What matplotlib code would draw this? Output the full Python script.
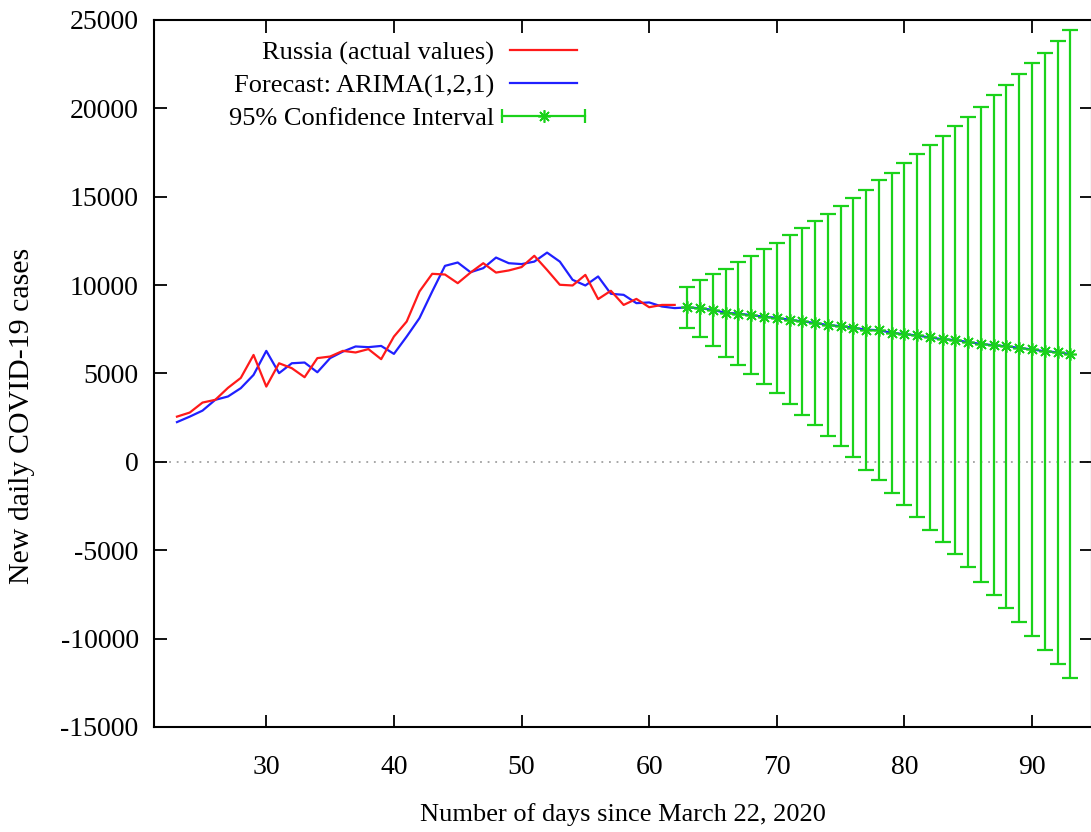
import matplotlib
matplotlib.use("Agg")
import matplotlib.pyplot as plt
from matplotlib.lines import Line2D
from matplotlib.legend_handler import HandlerLine2D

plt.rcParams['font.family'] = ['Liberation Serif', 'DejaVu Serif']
plt.rcParams['axes.unicode_minus'] = False

# actual data (Russia), days since March 22, 2020
days_actual = list(range(23, 63))
actual = [2560, 2790, 3355, 3510, 4190, 4750, 6050, 4260, 5580, 5300,
          4790, 5870, 5960, 6280, 6190, 6380, 5810, 7090, 7940, 9640,
          10640, 10600, 10110, 10710, 11240, 10710, 10830, 11020, 11660, 10860,
          10020, 9980, 10580, 9210, 9680, 8880, 9220, 8750, 8880, 8880]

# ARIMA(1,2,1) fitted values over the same days
fitted = [2250, 2560, 2900, 3510, 3700, 4170, 4920, 6280, 5020, 5580,
          5620, 5070, 5870, 6240, 6530, 6490, 6560, 6110, 7090, 8130,
          9640, 11090, 11280, 10730, 10960, 11560, 11240, 11190, 11330, 11840,
          11330, 10300, 9980, 10490, 9510, 9450, 8980, 9020, 8790, 8700]

# forecast with 95% confidence interval
days_fc = list(range(63, 94))
fc_mid = [8740, 8690, 8600, 8430, 8390, 8300, 8210, 8150, 8040, 7950,
          7860, 7740, 7680, 7590, 7480, 7450, 7300, 7230, 7150, 7040,
          6940, 6890, 6780, 6670, 6600, 6540, 6450, 6360, 6260, 6200, 6100]
fc_low = [7600, 7090, 6580, 5960, 5490, 4980, 4400, 3890, 3280, 2680,
          2080, 1470, 870, 270, -440, -1020, -1740, -2450, -3130, -3850,
          -4540, -5220, -5960, -6770, -7530, -8240, -9040, -9850, -10640, -11450, -12240]
fc_up = [9880, 10300, 10620, 10900, 11300, 11620, 12030, 12410, 12810, 13220,
         13640, 14010, 14500, 14920, 15390, 15920, 16340, 16920, 17430, 17920,
         18430, 19010, 19520, 20100, 20730, 21330, 21940, 22560, 23160, 23840, 24440]

red = '#ff1a1a'
blue = '#2020ff'
green = '#1ad21a'
star = (8, 2, 0)

fig = plt.figure(figsize=(10.91, 8.32), dpi=100)
ax = fig.add_axes([154/1091, 1 - 727/832, 938/1091, 707/832])

ax.axhline(0, color='#a0a0a0', lw=1.3, ls=(0, (1, 3.2)), zorder=1)

ax.plot(days_actual, actual, color=red, lw=1.6, zorder=3)
ax.plot(days_actual + days_fc, fitted + fc_mid, color=blue, lw=1.6, zorder=2)

err_lo = [m - l for m, l in zip(fc_mid, fc_low)]
err_hi = [u - m for m, u in zip(fc_mid, fc_up)]
ax.errorbar(days_fc, fc_mid, yerr=[err_lo, err_hi], fmt='none', ecolor=green,
            elinewidth=1.6, capsize=6, capthick=1.6, zorder=4)
ax.plot(days_fc, fc_mid, ls='none', marker=star, ms=9, mew=1.2, color=green, zorder=5)

ax.set_xlim(21.2, 94.7)
ax.set_ylim(-15000, 25000)
ax.set_xticks([30, 40, 50, 60, 70, 80, 90])
ax.set_yticks(range(-15000, 25001, 5000))
ax.tick_params(direction='in', length=9, width=1.3, top=True, right=True, labelsize=20)
ax.tick_params(axis='x', pad=20)
ax.tick_params(axis='y', pad=11)
for s in ax.spines.values():
    s.set_linewidth(1.5)

ax.set_xlabel('Number of days since March 22, 2020', fontsize=19, labelpad=17)
ax.set_ylabel('New daily COVID-19 cases', fontsize=21.5)
ax.yaxis.set_label_coords(-0.127, 0.44)

h_act = Line2D([], [], color=red, lw=1.6)
h_fit = Line2D([], [], color=blue, lw=1.6)
h_cap = Line2D([], [], color=green, lw=1.6, marker='|', ms=10, mew=1.6)
h_star = Line2D([], [], color=green, lw=0, marker=star, ms=9, mew=1.2)
leg = ax.legend([h_act, h_fit, (h_cap, h_star)],
                ['Russia (actual values)', 'Forecast: ARIMA(1,2,1)', '95% Confidence Interval'],
                loc='upper right', bbox_to_anchor=(0.471, 0.985), frameon=False,
                markerfirst=False, fontsize=19, handlelength=3.15, handletextpad=0.3,
                labelspacing=0.33, borderaxespad=0, numpoints=2,
                handler_map={h_cap: HandlerLine2D(numpoints=2, marker_pad=0),
                             h_star: HandlerLine2D(numpoints=1)})

fig.savefig('out.png', dpi=100)
